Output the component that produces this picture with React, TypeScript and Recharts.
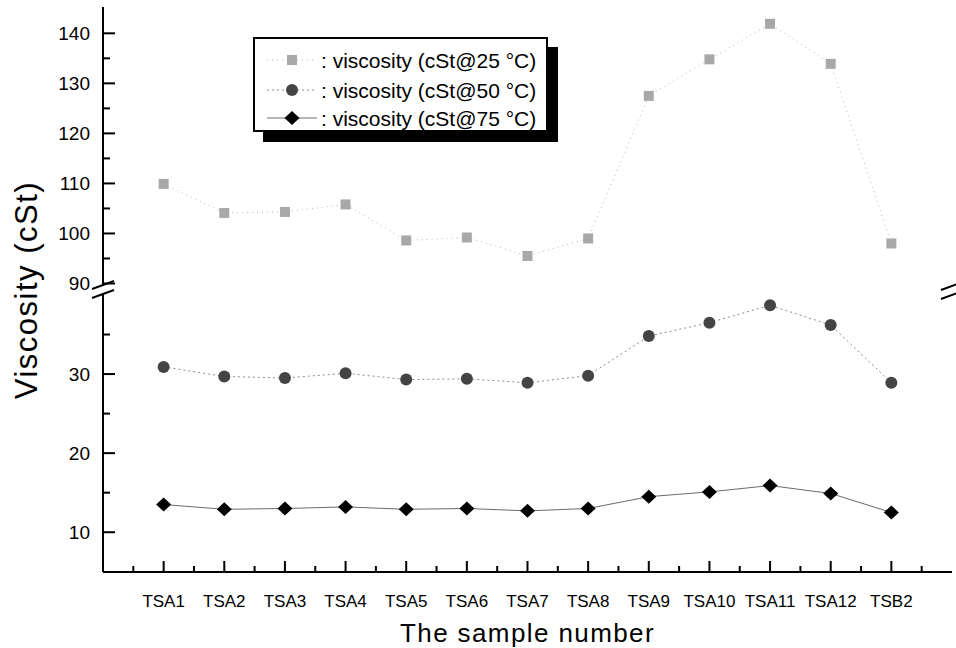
import React from 'react';
import { LineChart, Line, XAxis, YAxis, Legend, ReferenceLine } from 'recharts';

// Sample names along the x axis
const samples = ['TSA1', 'TSA2', 'TSA3', 'TSA4', 'TSA5', 'TSA6', 'TSA7', 'TSA8', 'TSA9', 'TSA10', 'TSA11', 'TSA12', 'TSB2'];

// Kinematic viscosity (cSt) at three temperatures
const viscosity25 = [109.9, 104.1, 104.3, 105.8, 98.6, 99.2, 95.5, 99.0, 127.5, 134.8, 141.9, 133.9, 98.0];
const viscosity50 = [30.9, 29.7, 29.5, 30.1, 29.3, 29.4, 28.9, 29.8, 34.8, 36.5, 38.7, 36.2, 28.9];
const viscosity75 = [13.5, 12.9, 13.0, 13.2, 12.9, 13.0, 12.7, 13.0, 14.5, 15.1, 15.9, 14.9, 12.5];

// Broken y axis: upper and lower segments (major / minor ticks)
const upperMajor = [90, 100, 110, 120, 130, 140];
const upperMinor = [95, 105, 115, 125, 135];
const lowerMajor = [10, 20, 30];
const lowerMinor = [15, 25, 35];
const upperDomain = [89.5, 145.26];
const lowerDomain = [4.97, 40.25];

// Category positions 1..13, minor ticks halfway between
const xMajor = [1, 2, 3, 4, 5, 6, 7, 8, 9, 10, 11, 12, 13];
const xMinor = [0.5, 1.5, 2.5, 3.5, 4.5, 5.5, 6.5, 7.5, 8.5, 9.5, 10.5, 11.5, 12.5, 13.5];
const xDomain = [0, 14];

const rows = samples.map((name, i) => ({
  pos: i + 1,
  name,
  v25: viscosity25[i],
  v50: viscosity50[i],
  v75: viscosity75[i],
}));

const FONT = '"Liberation Sans", Arial, Helvetica, sans-serif';

const series = [
  { key: 'v25', label: ': viscosity (cSt@25 °C)', stroke: '#b4b4b4', dash: '1 4', marker: 'square' },
  { key: 'v50', label: ': viscosity (cSt@50 °C)', stroke: '#8c8c8c', dash: '2 3', marker: 'circle' },
  { key: 'v75', label: ': viscosity (cSt@75 °C)', stroke: '#6a6a6a', dash: undefined, marker: 'diamond' },
];

function Marker({ kind, cx, cy }: { kind: string; cx: number; cy: number }) {
  if (kind === 'square') return <rect x={cx - 5} y={cy - 5} width={10} height={10} fill="#a8a8a8" />;
  if (kind === 'circle') return <circle cx={cx} cy={cy} r={6} fill="#444" />;
  return <path d={`M${cx},${cy - 7} L${cx + 7.5},${cy} L${cx},${cy + 7} L${cx - 7.5},${cy} Z`} fill="#000" />;
}

const makeDot = (kind: string) => (props: any) => {
  const { cx, cy, index } = props;
  if (cx == null || cy == null) return <g key={index} />;
  return (
    <g key={index}>
      <Marker kind={kind} cx={cx} cy={cy} />
    </g>
  );
};

function YLabel(props: any) {
  const { x, y, payload } = props;
  return (
    <text x={x} y={y + 7} textAnchor="end" fontSize={19} fontFamily={FONT} fill="#000">
      {payload.value}
    </text>
  );
}

function XLabel(props: any) {
  const { x, y, payload } = props;
  return (
    <text x={x} y={y} textAnchor="middle" fontSize={17} fontFamily={FONT} fill="#000">
      {samples[payload.value - 1]}
    </text>
  );
}

// Inward tick marks, placed by the axis scales through reference lines
const yTickShape = (len: number) => (p: any) => {
  const x0 = Math.min(p.x1, p.x2);
  return <rect x={x0} y={p.y1 - 1} width={len} height={2} fill="#000" />;
};
const xTickShape = (len: number) => (p: any) => {
  const y0 = Math.max(p.y1, p.y2);
  return <rect x={p.x1 - 1} y={y0 - len} width={2} height={len} fill="#000" />;
};

function yTickMarks(major: number[], minor: number[]) {
  return [
    ...major.map((v) => <ReferenceLine key={`ymaj-${v}`} xAxisId="x" yAxisId="v" y={v} shape={yTickShape(12)} isFront />),
    ...minor.map((v) => <ReferenceLine key={`ymin-${v}`} xAxisId="x" yAxisId="v" y={v} shape={yTickShape(7)} isFront />),
  ];
}

function LegendBox() {
  const rowsY = [23, 53, 81];
  return (
    <svg width={310} height={110} style={{ overflow: 'visible' }}>
      <rect x={10} y={10} width={295} height={95} fill="#000" />
      <rect x={1} y={1} width={293} height={93} fill="#fff" stroke="#000" strokeWidth={2} />
      {series.map((s, i) => (
        <g key={s.key}>
          <line x1={14} x2={64} y1={rowsY[i]} y2={rowsY[i]} stroke={s.stroke} strokeWidth={1} strokeDasharray={s.dash} />
          <Marker kind={s.marker} cx={39} cy={rowsY[i]} />
          <text x={68} y={rowsY[i] + 7.5} fontSize={21} fontFamily={FONT} fill="#000">
            {s.label}
          </text>
        </g>
      ))}
    </svg>
  );
}

const axisStroke = { stroke: '#000', strokeWidth: 2 };

export default function App() {
  return (
    <div style={{ position: 'absolute', left: 0, top: 0, width: 956, height: 648, background: '#fff', fontFamily: FONT }}>
      {/* Upper segment: 25 °C */}
      <div style={{ position: 'absolute', left: 0, top: 0 }}>
        <LineChart width={956} height={300} data={rows} margin={{ top: 7, right: 4, bottom: 14, left: 0 }}>
          <XAxis xAxisId="x" dataKey="pos" type="number" domain={xDomain} hide />
          <XAxis xAxisId="top" dataKey="pos" type="number" domain={xDomain} orientation="top" height={0} tick={false} tickLine={false} axisLine={axisStroke} />
          <YAxis yAxisId="v" type="number" domain={upperDomain} ticks={upperMajor} interval={0} width={103} tickSize={0} tickMargin={13} tickLine={false} axisLine={axisStroke} tick={YLabel} allowDataOverflow />
          <YAxis yAxisId="edge" orientation="right" type="number" domain={upperDomain} width={0} tick={false} tickLine={false} axisLine={axisStroke} allowDataOverflow />
          {yTickMarks(upperMajor, upperMinor)}
          <Legend layout="vertical" align="center" verticalAlign="middle" wrapperStyle={{ left: 253, top: 37, width: 310, height: 110 }} content={() => <LegendBox />} />
          <Line xAxisId="x" yAxisId="v" dataKey="v25" stroke={series[0].stroke} strokeWidth={1} strokeDasharray={series[0].dash} dot={makeDot('square')} activeDot={false} isAnimationActive={false} />
        </LineChart>
      </div>

      {/* Lower segment: 50 °C and 75 °C */}
      <div style={{ position: 'absolute', left: 0, top: 293 }}>
        <LineChart width={956} height={355} data={rows} margin={{ top: 0, right: 4, bottom: 0, left: 0 }}>
          <XAxis
            xAxisId="x"
            dataKey="pos"
            type="number"
            domain={xDomain}
            ticks={xMajor}
            interval={0}
            height={76}
            tickSize={0}
            tickMargin={35}
            tickLine={false}
            axisLine={axisStroke}
            tick={XLabel}
            label={{ value: 'The sample number', position: 'insideBottom', offset: 6, fontSize: 26, fill: '#000', fontFamily: FONT, letterSpacing: 1.4 }}
          />
          <YAxis yAxisId="v" type="number" domain={lowerDomain} ticks={lowerMajor} interval={0} width={103} tickSize={0} tickMargin={13} tickLine={false} axisLine={axisStroke} tick={YLabel} allowDataOverflow />
          <YAxis yAxisId="edge" orientation="right" type="number" domain={lowerDomain} width={0} tick={false} tickLine={false} axisLine={axisStroke} allowDataOverflow />
          {yTickMarks(lowerMajor, lowerMinor)}
          {xMajor.map((v) => (
            <ReferenceLine key={`xmaj-${v}`} xAxisId="x" yAxisId="v" x={v} shape={xTickShape(11)} isFront />
          ))}
          {xMinor.map((v) => (
            <ReferenceLine key={`xmin-${v}`} xAxisId="x" yAxisId="v" x={v} shape={xTickShape(6)} isFront />
          ))}
          <Line xAxisId="x" yAxisId="v" dataKey="v50" stroke={series[1].stroke} strokeWidth={1} strokeDasharray={series[1].dash} dot={makeDot('circle')} activeDot={false} isAnimationActive={false} />
          <Line xAxisId="x" yAxisId="v" dataKey="v75" stroke={series[2].stroke} strokeWidth={1} dot={makeDot('diamond')} activeDot={false} isAnimationActive={false} />
        </LineChart>
      </div>

      {/* Axis break marks and y-axis title */}
      <svg width={956} height={648} style={{ position: 'absolute', left: 0, top: 0, pointerEvents: 'none' }}>
        <line x1={92} y1={289} x2={114} y2={281} stroke="#000" strokeWidth={2} />
        <line x1={92} y1={298} x2={114} y2={290} stroke="#000" strokeWidth={2} />
        <line x1={941} y1={290} x2={963} y2={282} stroke="#000" strokeWidth={2} />
        <line x1={941} y1={299} x2={963} y2={291} stroke="#000" strokeWidth={2} />
        <text x={37} y={290} transform="rotate(-90 37 290)" textAnchor="middle" fontSize={31} letterSpacing={1.5} fontFamily={FONT} fill="#000">
          Viscosity (cSt)
        </text>
      </svg>
    </div>
  );
}
